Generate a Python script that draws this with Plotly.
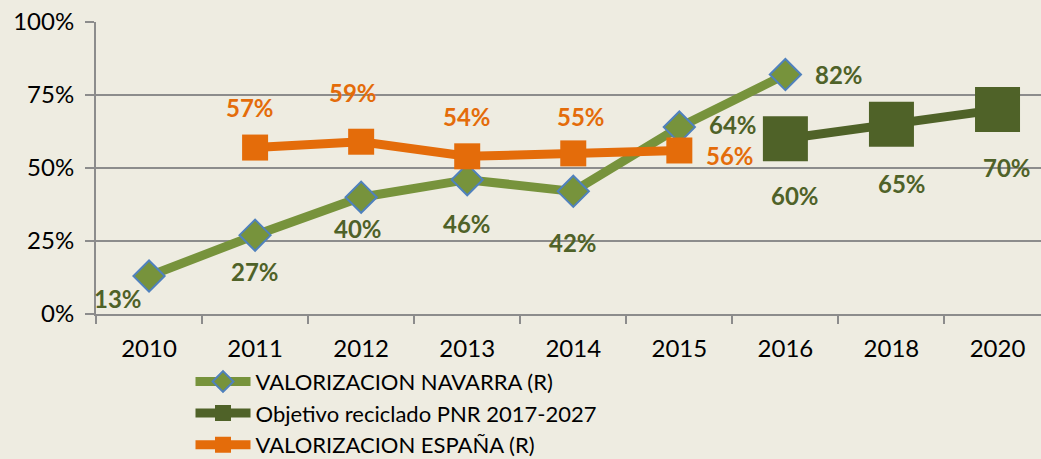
import plotly.graph_objects as go

years = ["2010", "2011", "2012", "2013", "2014", "2015", "2016", "2018", "2020"]

navarra_years = ["2010", "2011", "2012", "2013", "2014", "2015", "2016"]
navarra_vals = [13, 27, 40, 46, 42, 64, 82]

objetivo_years = ["2016", "2018", "2020"]
objetivo_vals = [60, 65, 70]

espana_years = ["2011", "2012", "2013", "2014", "2015"]
espana_vals = [57, 59, 54, 55, 56]

y_ticks = [0, 25, 50, 75, 100]

LIGHT_GREEN = "#77933C"
DARK_GREEN = "#4F6228"
ORANGE = "#E46C0A"
BG = "#EEECE1"
GRID = "#8C8C8C"
FONT = "Lato"

# label offsets in pixels (x right, y up)
nav_off = [(-31, -22), (0, -36), (-3, -31), (0, -44), (0, -51), (54, 3), (54, 0)]
obj_off = [(10, -57), (11, -59), (9, -58)]
esp_off = [(-5, 40), (-8, 49), (0, 40), (8, 37), (51, -5)]

fig = go.Figure()
fig.add_trace(go.Scatter(
    x=navarra_years, y=navarra_vals, mode="lines+markers",
    name="VALORIZACION NAVARRA (R)",
    line=dict(color=LIGHT_GREEN, width=9),
    marker=dict(symbol="diamond", size=24, color=LIGHT_GREEN,
                line=dict(color="#4F81BD", width=2)),
))
fig.add_trace(go.Scatter(
    x=objetivo_years, y=objetivo_vals, mode="lines+markers",
    name="Objetivo reciclado PNR 2017-2027",
    line=dict(color=DARK_GREEN, width=9),
    marker=dict(symbol="square", size=45, color=DARK_GREEN),
))
fig.add_trace(go.Scatter(
    x=espana_years, y=espana_vals, mode="lines+markers",
    name="VALORIZACION ESPAÑA (R)",
    line=dict(color=ORANGE, width=9),
    marker=dict(symbol="square", size=26, color=ORANGE),
))

annotations = []
for xs, ys, offs, col in [(navarra_years, navarra_vals, nav_off, DARK_GREEN),
                          (objetivo_years, objetivo_vals, obj_off, DARK_GREEN),
                          (espana_years, espana_vals, esp_off, ORANGE)]:
    for x, y, (dx, dy) in zip(xs, ys, offs):
        annotations.append(dict(
            x=years.index(x), y=y, xref="x", yref="y",
            text="<b>%d%%</b>" % y, showarrow=False,
            xshift=dx, yshift=dy, font=dict(family=FONT, size=24, color=col),
        ))

fig.update_layout(
    width=1041, height=459,
    paper_bgcolor=BG, plot_bgcolor=BG,
    margin=dict(l=96, r=0, t=22, b=145, autoexpand=False),
    font=dict(family=FONT, color="#000000"),
    annotations=annotations,
    showlegend=True,
    legend=dict(
        orientation="v", x=0.1, xanchor="left", y=-0.16, yanchor="top",
        font=dict(family=FONT, size=22, color="#000000"),
        bgcolor="rgba(0,0,0,0)", itemwidth=55, tracegroupgap=0,
    ),
    xaxis=dict(
        type="category", categoryorder="array", categoryarray=years,
        range=[-0.5, 8.41], showgrid=False, showline=True, linecolor=GRID,
        linewidth=2, ticks="outside", ticklen=8, tickcolor=GRID, tickwidth=2,
        tickson="boundaries", tickfont=dict(size=24, family=FONT),
        ticklabelstandoff=12, zeroline=False,
    ),
    yaxis=dict(
        range=[0, 100], tickvals=y_ticks, ticktext=[f"{v}%" for v in y_ticks],
        showgrid=True, gridcolor=GRID, gridwidth=2, showline=True,
        linecolor=GRID, linewidth=2, ticks="outside", ticklen=9,
        tickcolor=GRID, tickwidth=2, tickfont=dict(size=24, family=FONT),
        ticklabelstandoff=6, zeroline=False,
    ),
)

fig.write_html("out.html", config={"displayModeBar": False},
               post_script="document.body.style.margin='0';")
